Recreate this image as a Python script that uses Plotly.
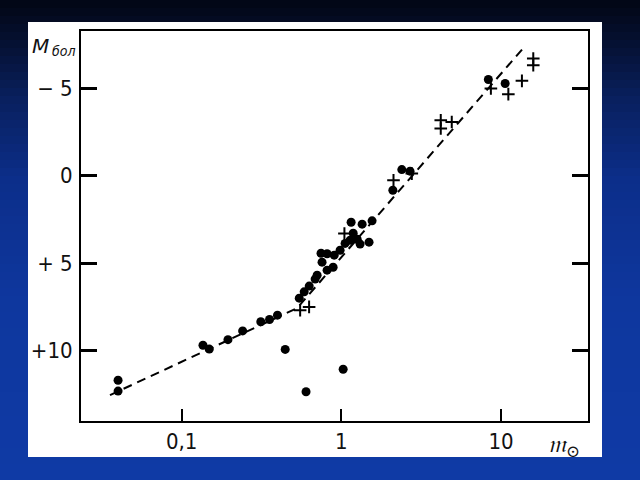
import plotly.graph_objects as go

# ---- data ----
dot_mass = [0.040, 0.040, 0.136, 0.149, 0.195, 0.241, 0.313, 0.355, 0.398,
            0.545, 0.585, 0.629, 0.685, 0.705, 0.746, 0.814, 0.902, 0.757,
            0.814, 0.888, 0.982, 1.055, 1.134, 1.151, 1.186, 1.256, 1.349,
            1.557, 1.31, 1.49, 0.445, 0.601, 1.026, 2.10, 2.39, 2.69, 8.32, 10.6]
dot_mag = [11.69, 12.31, 9.69, 9.91, 9.37, 8.87, 8.35, 8.22, 7.97,
           7.00, 6.64, 6.31, 5.91, 5.69, 4.43, 4.46, 4.54, 4.94,
           5.40, 5.23, 4.26, 3.87, 3.69, 2.66, 3.29, 3.63, 2.77,
           2.58, 3.91, 3.80, 9.93, 12.35, 11.06, 0.83, -0.35, -0.26, -5.50, -5.27]

cross_mass = [0.552, 0.628, 1.045, 2.12, 2.76, 4.19, 4.19, 4.91, 8.63, 11.1, 13.5, 15.9, 15.9]
cross_mag = [7.69, 7.50, 3.30, 0.26, -0.12, -3.17, -2.70, -3.07, -4.98, -4.66, -5.42, -6.70, -6.31]

fit_mass = [0.0356, 0.528, 14.1]
fit_mag = [12.54, 7.57, -7.40]

x_tickvals = [0.1, 1, 10]
x_ticktext = ["0,1", "1", "10"]
y_tickvals = [-5, 0, 5, 10]
y_ticktext = ["− 5", "0", "+ 5", "+10"]

# ---- layout geometry ----
W, H = 640, 480
L, R, T, B = 81, 52, 31, 59
pw, ph = W - L - R, H - T - B

def px2paper_x(px):
    return (px - L) / pw

def px2paper_y(py):
    return (H - B - py) / ph

fig = go.Figure()

fig.add_trace(go.Scatter(x=fit_mass, y=fit_mag, mode="lines",
                         line=dict(color="black", width=2, dash="9px,6px"),
                         hoverinfo="skip", showlegend=False))
fig.add_trace(go.Scatter(x=dot_mass, y=dot_mag, mode="markers",
                         marker=dict(symbol="circle", size=9, color="black"),
                         showlegend=False))
fig.add_trace(go.Scatter(x=cross_mass, y=cross_mag, mode="markers",
                         marker=dict(symbol="cross-thin", size=9,
                                     line=dict(color="black", width=2)),
                         showlegend=False))

# background gradient bands
shapes = []
stops = [(0, (2, 6, 20)), (40, (5, 16, 48)), (100, (9, 32, 95)),
         (180, (12, 46, 138)), (300, (14, 55, 158)), (480, (15, 58, 165))]
band = 8
for y0 in range(0, H, band):
    yc = y0 + band / 2
    for i in range(len(stops) - 1):
        if stops[i][0] <= yc <= stops[i + 1][0]:
            t = (yc - stops[i][0]) / (stops[i + 1][0] - stops[i][0])
            c = [round(stops[i][1][k] + t * (stops[i + 1][1][k] - stops[i][1][k])) for k in range(3)]
            break
    shapes.append(dict(type="rect", xref="paper", yref="paper",
                       x0=px2paper_x(0), x1=px2paper_x(W),
                       y0=px2paper_y(y0 + band + 0.5), y1=px2paper_y(y0),
                       fillcolor=f"rgb({c[0]},{c[1]},{c[2]})", line=dict(width=0),
                       layer="below"))
# white scanned page
shapes.append(dict(type="rect", xref="paper", yref="paper",
                   x0=px2paper_x(28), x1=px2paper_x(602),
                   y0=px2paper_y(457), y1=px2paper_y(22),
                   fillcolor="white", line=dict(width=0), layer="below"))

tickfont = dict(family="Liberation Sans Narrow, DejaVu Sans Condensed, sans-serif",
                size=22, color="#111")

fig.update_layout(
    width=W, height=H,
    margin=dict(l=L, r=R, t=T, b=B, pad=0),
    paper_bgcolor="rgb(12,46,138)",
    plot_bgcolor="white",
    shapes=shapes,
    xaxis=dict(type="log", range=[-1.630, 1.544],
               tickvals=x_tickvals, ticktext=x_ticktext,
               ticks="inside", ticklen=12, tickwidth=2, tickcolor="black",
               showline=True, linecolor="black", linewidth=2, mirror=True,
               showgrid=False, zeroline=False, tickfont=tickfont),
    yaxis=dict(range=[14.02, -8.27],
               tickvals=y_tickvals, ticktext=y_ticktext,
               ticks="inside", ticklen=16, tickwidth=2.5, tickcolor="black",
               showline=True, linecolor="black", linewidth=2, mirror="ticks",
               showgrid=False, zeroline=False, tickfont=tickfont,
               ticklabelstandoff=2),
    annotations=[
        dict(xref="paper", yref="paper", x=px2paper_x(30), y=px2paper_y(32),
             xanchor="left", yanchor="top", showarrow=False,
             text="<i>M</i>", font=dict(family="DejaVu Sans", size=20, color="#111")),
        dict(xref="paper", yref="paper", x=px2paper_x(50), y=px2paper_y(41),
             xanchor="left", yanchor="top", showarrow=False,
             text="<i>бол</i>", font=dict(family="DejaVu Sans Condensed, DejaVu Sans", size=14, color="#111")),
        dict(xref="paper", yref="paper", x=px2paper_x(546), y=px2paper_y(428),
             xanchor="left", yanchor="top", showarrow=False,
             text="<i>𝔪</i><sub>⊙</sub>", font=dict(family="DejaVu Serif, DejaVu Sans", size=24, color="#111")),
    ],
)

fig.write_html("out.html", config={"displayModeBar": False},
               post_script="document.body.style.margin='0';document.body.style.overflow='hidden';")
